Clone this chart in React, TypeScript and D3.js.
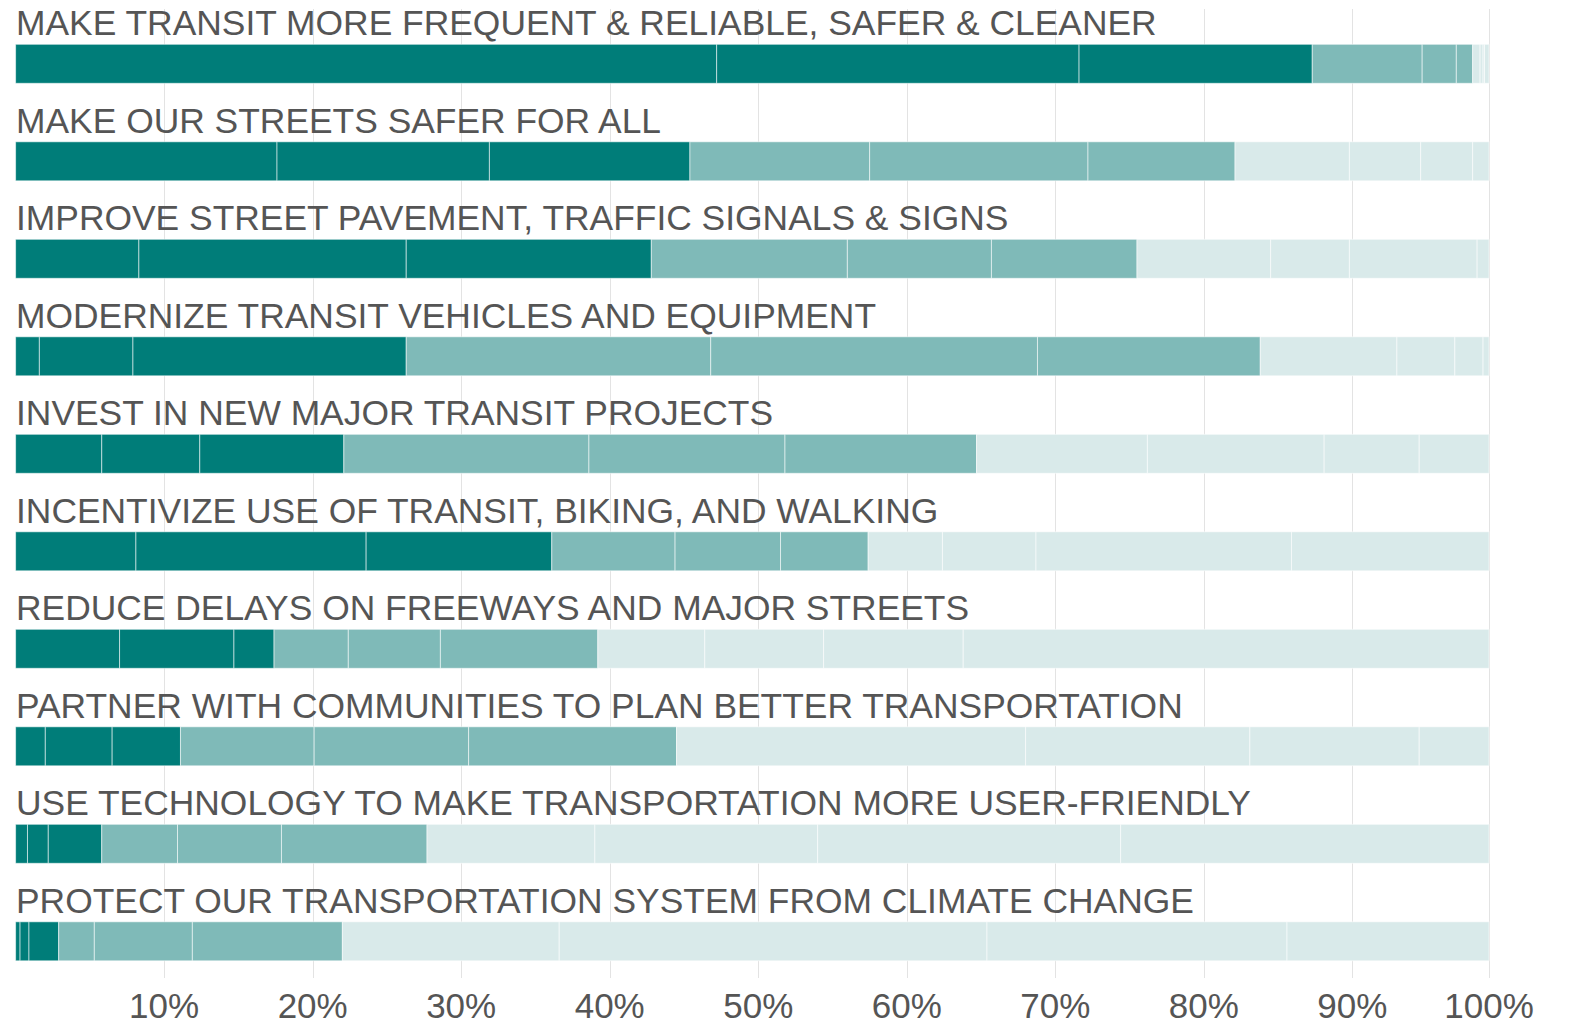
import React from "react";
import * as d3 from "d3";

const categories = [
  "MAKE TRANSIT MORE FREQUENT & RELIABLE, SAFER & CLEANER",
  "MAKE OUR STREETS SAFER FOR ALL",
  "IMPROVE STREET PAVEMENT, TRAFFIC SIGNALS & SIGNS",
  "MODERNIZE TRANSIT VEHICLES AND EQUIPMENT",
  "INVEST IN NEW MAJOR TRANSIT PROJECTS",
  "INCENTIVIZE USE OF TRANSIT, BIKING, AND WALKING",
  "REDUCE DELAYS ON FREEWAYS AND MAJOR STREETS",
  "PARTNER WITH COMMUNITIES TO PLAN BETTER TRANSPORTATION",
  "USE TECHNOLOGY TO MAKE TRANSPORTATION MORE USER-FRIENDLY",
  "PROTECT OUR TRANSPORTATION SYSTEM FROM CLIMATE CHANGE",
];

// share of respondents (%) giving each rank to each priority
const rank1 = [47.2, 17.6, 8.3, 1.6, 5.8, 8.1, 7.0, 2.0, 0.8, 0.3];
const rank2 = [24.4, 14.3, 18.0, 6.3, 6.6, 15.5, 7.7, 4.5, 1.4, 0.6];
const rank3 = [15.7, 13.5, 16.5, 18.4, 9.7, 12.5, 2.7, 4.6, 3.6, 2.0];
const rank4 = [7.4, 12.1, 13.2, 20.5, 16.5, 8.3, 5.0, 9.0, 5.1, 2.4];
const rank5 = [2.3, 14.7, 9.7, 22.0, 13.2, 7.1, 6.2, 10.4, 7.0, 6.6];
const rank6 = [1.1, 9.9, 9.8, 15.0, 12.9, 5.9, 10.6, 14.0, 9.8, 10.1];
const rank7 = [0.5, 7.7, 9.0, 9.2, 11.5, 5.0, 7.2, 23.5, 11.3, 14.6];
const rank8 = [0.2, 4.8, 5.3, 3.9, 11.9, 6.3, 8.0, 15.1, 15.0, 28.8];
const rank9 = [0.1, 3.5, 8.6, 1.9, 6.4, 17.2, 9.4, 11.4, 20.4, 20.2];
const rank10 = [0.3, 1.1, 0.8, 0.4, 4.7, 13.3, 35.4, 4.7, 24.8, 13.6];

const rankSeries = [rank1, rank2, rank3, rank4, rank5, rank6, rank7, rank8, rank9, rank10];
const rankKeys = ["r1", "r2", "r3", "r4", "r5", "r6", "r7", "r8", "r9", "r10"];
const rankGroupColors = ["#007d79", "#007d79", "#007d79", "#7fbab8", "#7fbab8", "#7fbab8", "#d9eaea", "#d9eaea", "#d9eaea", "#d9eaea"];

const tickValues = [10, 20, 30, 40, 50, 60, 70, 80, 90, 100];
const tickLabels = ["10%", "20%", "30%", "40%", "50%", "60%", "70%", "80%", "90%", "100%"];

const W = 1572;
const H = 1028;
const FONT = "'Liberation Sans', Arial, sans-serif";
const TEXT = "#555555";

export default function App() {
  const table = categories.map((c, i) => {
    const row: any = { category: c };
    rankKeys.forEach((k, j) => (row[k] = rankSeries[j][i]));
    return row;
  });
  const totals = table.map((r) => d3.sum(rankKeys, (k) => r[k]));
  const maxTotal = d3.max(totals) as number;

  const x = d3.scaleLinear().domain([0, maxTotal]).range([15.6, 1489]);
  const y = d3
    .scaleBand<string>()
    .domain(categories)
    .range([44.3, 960.8])
    .paddingInner(0.6)
    .paddingOuter(0);

  const stacked = d3.stack<any>().keys(rankKeys)(table);

  return (
    <svg
      width={W}
      height={H}
      style={{ position: "absolute", left: 0, top: 0, background: "#fff" }}
    >
      <g>
        {tickValues.map((v) => {
          const px = Math.round(x(Math.min(v, maxTotal))) + 0.5;
          return (
            <line key={v} x1={px} x2={px} y1={9} y2={978} stroke="#e3e3e3" strokeWidth={1} />
          );
        })}
      </g>
      <g>
        {stacked.map((layer, j) => (
          <g key={layer.key} fill={rankGroupColors[j]}>
            {layer.map((d, i) => (
              <rect
                key={i}
                x={x(d[0])}
                y={y(categories[i])}
                width={Math.max(0, x(d[1]) - x(d[0]))}
                height={y.bandwidth()}
                stroke="#ffffff"
                strokeOpacity={0.55}
                strokeWidth={1}
              />
            ))}
          </g>
        ))}
      </g>
      <g>
        {categories.map((c) => (
          <text
            key={c}
            x={16}
            y={(y(c) as number) - 9.3}
            fontFamily={FONT}
            fontSize={35.4}
            fill={TEXT}
          >
            {c}
          </text>
        ))}
      </g>
      <g>
        {tickValues.map((v, i) => (
          <text
            key={v}
            x={x(Math.min(v, maxTotal))}
            y={1018}
            textAnchor="middle"
            fontFamily={FONT}
            fontSize={35}
            fill={TEXT}
          >
            {tickLabels[i]}
          </text>
        ))}
      </g>
    </svg>
  );
}
